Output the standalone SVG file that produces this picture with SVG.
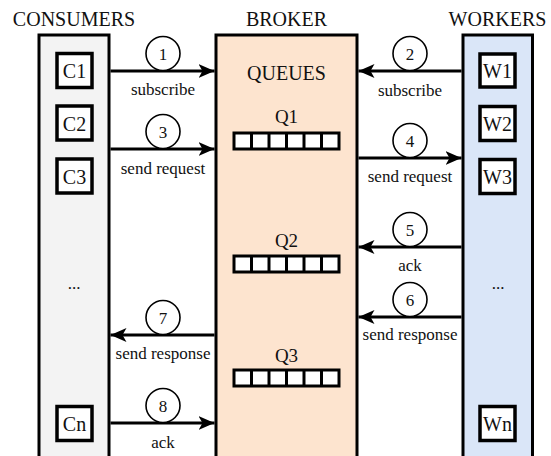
<svg xmlns="http://www.w3.org/2000/svg" width="551" height="456" viewBox="0 0 551 456">
  <defs>
    <style>
      text { font-family: "Liberation Serif", "Noto Serif", "DejaVu Serif", Tinos, "Times New Roman", Times, FreeSerif, serif; fill: #111; text-anchor: middle; }
      .head { font-size: 20px; }
      .box-label { font-size: 20px; }
      .qlabel { font-size: 19px; }
      .lbl { font-size: 17px; }
      .num { font-size: 17px; }
      .col { stroke: #000; stroke-width: 3; }
      .box { fill: #fff; stroke: #000; stroke-width: 3.5; }
      .queue { fill: #fff; stroke: #000; stroke-width: 3; }
      .qsep { stroke: #000; stroke-width: 3; }
      .edge { stroke: #000; stroke-width: 3; fill: none; marker-end: url(#arrow); }
      .badge { fill: #fff; stroke: #000; stroke-width: 1.6; }
    </style>
    <marker id="arrow" markerUnits="userSpaceOnUse" markerWidth="17" markerHeight="14" refX="16" refY="7" orient="auto">
      <path d="M0,0 L16,7 L0,14 L4,7 Z" fill="#000"/>
    </marker>
    <!-- six-slot queue drawn at the origin, reused for Q1..Q3 -->
    <g id="queue-slots">
      <rect class="queue" x="0" y="0" width="105" height="16"/>
      <line class="qsep" x1="17.5" y1="0" x2="17.5" y2="16"/>
      <line class="qsep" x1="35" y1="0" x2="35" y2="16"/>
      <line class="qsep" x1="52.5" y1="0" x2="52.5" y2="16"/>
      <line class="qsep" x1="70" y1="0" x2="70" y2="16"/>
      <line class="qsep" x1="87.5" y1="0" x2="87.5" y2="16"/>
    </g>
  </defs>

  <rect width="551" height="456" fill="#fff"/>

  <!-- column headers -->
  <text class="head" x="74" y="26">CONSUMERS</text>
  <text class="head" x="286.5" y="26">BROKER</text>
  <text class="head" x="497.5" y="26">WORKERS</text>

  <!-- consumers column -->
  <g id="consumers">
    <rect class="col" x="39" y="35" width="70" height="440" fill="#f3f3f3"/>
    <g id="c1"><rect class="box" x="57" y="53.5" width="35" height="34"/><text class="box-label" x="74.5" y="78">C1</text></g>
    <g id="c2"><rect class="box" x="57" y="106" width="35" height="34"/><text class="box-label" x="74.5" y="130.5">C2</text></g>
    <g id="c3"><rect class="box" x="57" y="159" width="35" height="34"/><text class="box-label" x="74.5" y="183.5">C3</text></g>
    <text class="lbl" x="74" y="289">...</text>
    <g id="cn"><rect class="box" x="57" y="406.5" width="35" height="34"/><text class="box-label" x="74.5" y="431">Cn</text></g>
  </g>

  <!-- broker column with queues -->
  <g id="broker">
    <rect class="col" x="216" y="35" width="141" height="440" fill="#fde4cf"/>
    <text class="head" x="286.5" y="80">QUEUES</text>
    <g id="q1"><text class="qlabel" x="286.5" y="123">Q1</text><use href="#queue-slots" x="234" y="133"/></g>
    <g id="q2"><text class="qlabel" x="286.5" y="247">Q2</text><use href="#queue-slots" x="234" y="256"/></g>
    <g id="q3"><text class="qlabel" x="286.5" y="362">Q3</text><use href="#queue-slots" x="234" y="370"/></g>
  </g>

  <!-- workers column -->
  <g id="workers">
    <rect class="col" x="463" y="35" width="69.5" height="440" fill="#dae6f8"/>
    <g id="w1"><rect class="box" x="480" y="54" width="35" height="33"/><text class="box-label" x="497.5" y="78">W1</text></g>
    <g id="w2"><rect class="box" x="480" y="106.5" width="35" height="34"/><text class="box-label" x="497.5" y="131">W2</text></g>
    <g id="w3"><rect class="box" x="480" y="159.5" width="35" height="34"/><text class="box-label" x="497.5" y="184">W3</text></g>
    <text class="lbl" x="498" y="289">...</text>
    <g id="wn"><rect class="box" x="480" y="406.5" width="35" height="34"/><text class="box-label" x="497.5" y="431">Wn</text></g>
  </g>

  <!-- message flows -->
  <g id="connectors">
    <line class="edge" x1="110.5" y1="71" x2="214.5" y2="71"/>
    <circle class="badge" cx="163" cy="53.5" r="17"/>
    <text class="num" x="163" y="59.5">1</text>
    <text class="lbl" x="163" y="95">subscribe</text>

    <line class="edge" x1="461.5" y1="71" x2="358.5" y2="71"/>
    <circle class="badge" cx="410" cy="53.5" r="17"/>
    <text class="num" x="410" y="59.5">2</text>
    <text class="lbl" x="410" y="96">subscribe</text>

    <line class="edge" x1="110.5" y1="149" x2="214.5" y2="149"/>
    <circle class="badge" cx="163" cy="131.5" r="17"/>
    <text class="num" x="163" y="137.5">3</text>
    <text class="lbl" x="163" y="174">send request</text>

    <line class="edge" x1="358.5" y1="158" x2="461.5" y2="158"/>
    <circle class="badge" cx="410" cy="140.5" r="17"/>
    <text class="num" x="410" y="146.5">4</text>
    <text class="lbl" x="410" y="182">send request</text>

    <line class="edge" x1="461.5" y1="247" x2="358.5" y2="247"/>
    <circle class="badge" cx="410" cy="229.5" r="17"/>
    <text class="num" x="410" y="235.5">5</text>
    <text class="lbl" x="410" y="271">ack</text>

    <line class="edge" x1="461.5" y1="317" x2="358.5" y2="317"/>
    <circle class="badge" cx="410" cy="299.5" r="17"/>
    <text class="num" x="410" y="305.5">6</text>
    <text class="lbl" x="410" y="340">send response</text>

    <line class="edge" x1="214.5" y1="335" x2="110.5" y2="335"/>
    <circle class="badge" cx="163" cy="317.5" r="17"/>
    <text class="num" x="163" y="323.5">7</text>
    <text class="lbl" x="163" y="359">send response</text>

    <line class="edge" x1="110.5" y1="423" x2="214.5" y2="423"/>
    <circle class="badge" cx="163" cy="405.5" r="17"/>
    <text class="num" x="163" y="411.5">8</text>
    <text class="lbl" x="163" y="448">ack</text>
  </g>
</svg>
